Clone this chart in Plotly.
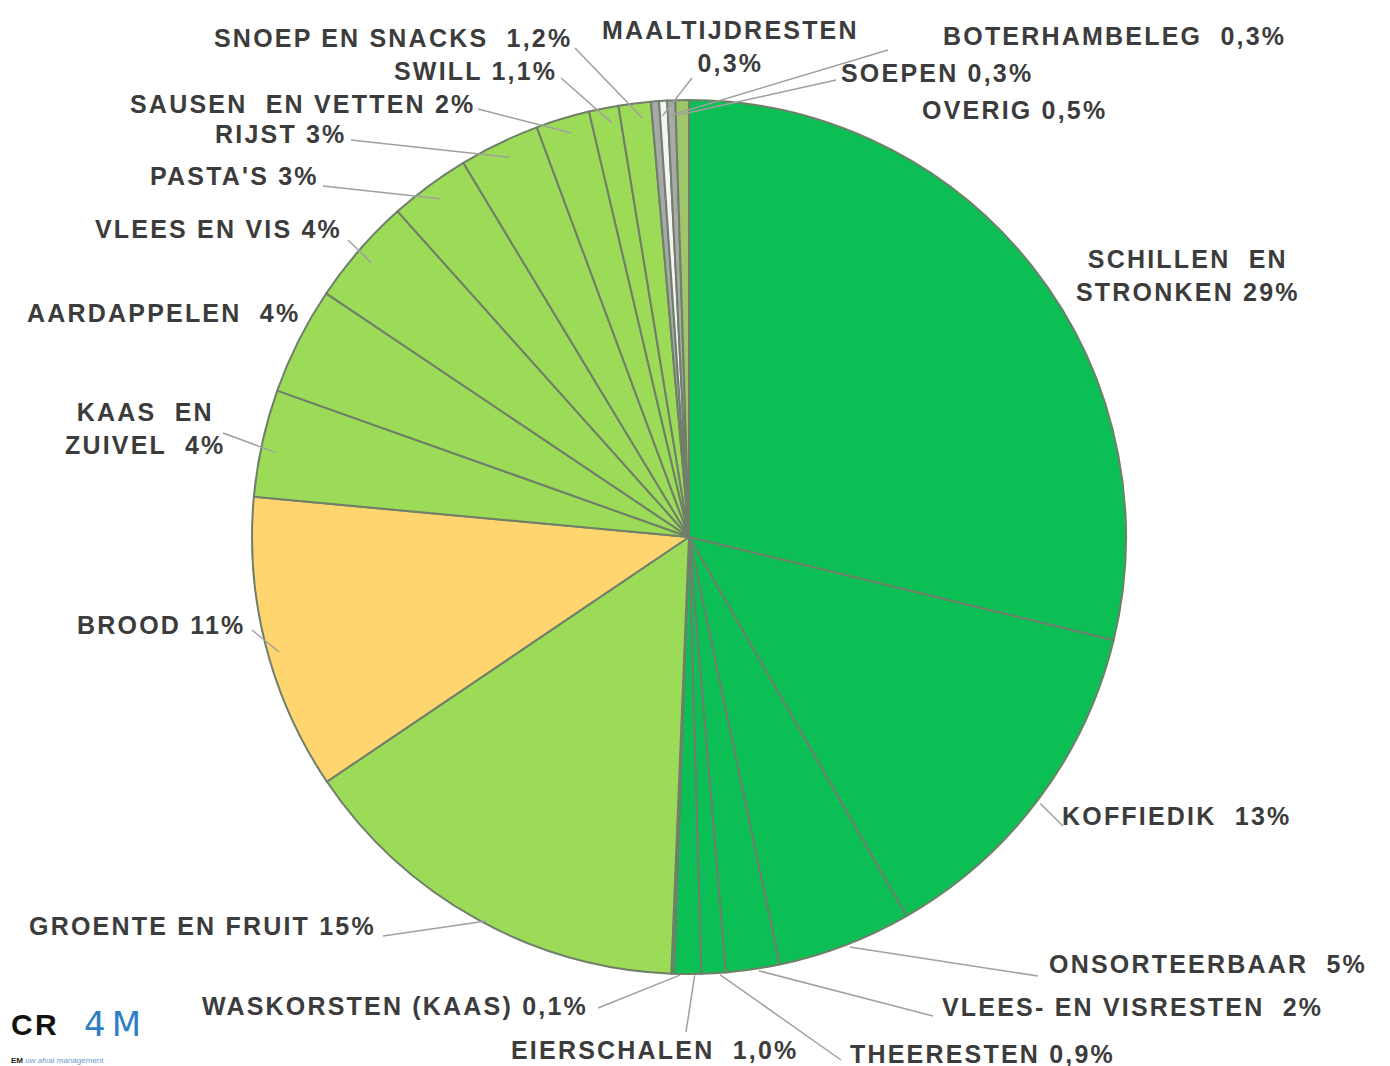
import math
import plotly.graph_objects as go

# ---------------- data ----------------
labels = [
    "SCHILLEN EN STRONKEN", "KOFFIEDIK", "ONSORTEERBAAR", "VLEES- EN VISRESTEN",
    "THEERESTEN", "EIERSCHALEN", "WASKORSTEN (KAAS)", "GROENTE EN FRUIT", "BROOD",
    "KAAS EN ZUIVEL", "AARDAPPELEN", "VLEES EN VIS", "PASTA'S", "RIJST",
    "SAUSEN EN VETTEN", "SWILL", "SNOEP EN SNACKS", "MAALTIJDRESTEN",
    "BOTERHAMBELEG", "SOEPEN", "OVERIG",
]
values = [29, 13, 5, 2, 0.9, 1.0, 0.1, 15, 11, 4, 4, 4, 3, 3, 2, 1.1, 1.2, 0.3, 0.3, 0.3, 0.5]
display_text = [
    "SCHILLEN  EN<br>STRONKEN 29%", "KOFFIEDIK  13%", "ONSORTEERBAAR  5%",
    "VLEES- EN VISRESTEN  2%", "THEERESTEN 0,9%", "EIERSCHALEN  1,0%",
    "WASKORSTEN (KAAS) 0,1%", "GROENTE EN FRUIT 15%", "BROOD 11%",
    "KAAS  EN<br>ZUIVEL  4%", "AARDAPPELEN  4%", "VLEES EN VIS 4%", "PASTA'S 3%",
    "RIJST 3%", "SAUSEN  EN VETTEN 2%", "SWILL 1,1%", "SNOEP EN SNACKS  1,2%",
    "MAALTIJDRESTEN<br>0,3%", "BOTERHAMBELEG  0,3%", "SOEPEN 0,3%", "OVERIG 0,5%",
]

DG, LG, YL = "#0CBF55", "#9CDB57", "#FFD570"
colors = [DG, DG, DG, DG, DG, DG, DG, LG, YL, LG, LG, LG, LG, LG, LG, LG, LG,
          "#A8A8A8", "#F4F4F4", "#A8ABA5", "#9FC66B"]

# ---------------- layout constants (pixels) ----------------
W, H = 1390, 1066
CX, CY, R = 688, 537, 437          # visual centre / radius wanted
DX, DY = -7, -8                    # empirical offset of plotly's pie centre

label_pos = [
    (1180, 267), (1168, 808), (1200, 956), (1124, 999), (974, 1046), (646, 1042),
    (387, 998), (195, 918), (153, 617), (137, 421), (155, 305), (210, 221),
    (226, 168), (273, 126), (294, 96), (467, 63), (385, 30), (722, 38),
    (1106, 28), (929, 65), (1006, 102),
]
line_end = [
    None, (1055, 818), (1030, 968), (925, 1008), (833, 1052), (678, 1024),
    (590, 1000), (375, 928), (244, 622), (215, 425), None, (340, 232),
    (315, 178), (343, 132), (470, 101), (553, 70), (567, 40), (684, 70),
    (880, 42), (828, 72), None,
]


def px_to_paper(x, y):
    return x / W, 1 - y / H


fig = go.Figure()
fig.add_trace(go.Pie(
    labels=labels, values=values, sort=False, direction="clockwise", rotation=0,
    marker=dict(colors=colors, line=dict(color="#6F7F6A", width=2)),
    textinfo="none", hoverinfo="label+percent", showlegend=False,
    domain=dict(x=[(CX + DX - R) / W, (CX + DX + R) / W],
                y=[1 - (CY + DY + R) / H, 1 - (CY + DY - R) / H]),
))

annotations = []
shapes = []
total = sum(values)
cum = 0.0
FONT = dict(family="Liberation Sans, Arial, sans-serif", size=25, color="#3C3C3C")
SP = "<span style='letter-spacing:2.2px'>"
for i, v in enumerate(values):
    mid = (cum + v / 2) / total
    cum += v
    ang = 2 * math.pi * mid
    sx = CX + R * 0.985 * math.sin(ang)
    sy = CY - R * 0.985 * math.cos(ang)
    lx, ly = label_pos[i]
    px_, py_ = px_to_paper(lx, ly)
    annotations.append(dict(
        x=px_, y=py_, xref="paper", yref="paper",
        text="<b>" + SP + display_text[i].replace("<br>", "</span><br>" + SP) + "</span></b>",
        showarrow=False, xanchor="center", yanchor="middle", font=FONT, align="center",
    ))
    if line_end[i] is not None:
        ex, ey = line_end[i]
        x0, y0 = px_to_paper(sx, sy)
        x1, y1 = px_to_paper(ex, ey)
        shapes.append(dict(type="line", xref="paper", yref="paper", x0=x0, y0=y0, x1=x1, y1=y1,
                           line=dict(color="#A0A0A0", width=1.5), layer="above"))


# logo
def pp(x, y):
    a, b = px_to_paper(x, y)
    return dict(x=a, y=b, xref="paper", yref="paper", showarrow=False, yanchor="middle")


annotations += [
    dict(**pp(1, 1016), xanchor="left", text="<b>C</b>",
         font=dict(family="Liberation Sans", size=30, color="#111")),
    dict(**pp(38, 1016), xanchor="center", text="<b>R</b>",
         font=dict(family="Liberation Sans", size=30, color="#111")),
    dict(**pp(108, 1016), xanchor="center",
         text="<span style='letter-spacing:6px'>4M</span>",
         font=dict(family="DejaVu Sans", size=34, color="#2E7EC4")),
    dict(**pp(1, 1052), xanchor="left",
         text="<b>EM</b> <span style='color:#6A9BD0'>uw afval management</span>",
         font=dict(family="Liberation Sans", size=8, color="#222")),
]

fig.update_layout(
    width=W, height=H, margin=dict(l=0, r=0, t=0, b=0),
    paper_bgcolor="white", plot_bgcolor="white",
    annotations=annotations, shapes=shapes,
)
fig.write_html("out.html")
